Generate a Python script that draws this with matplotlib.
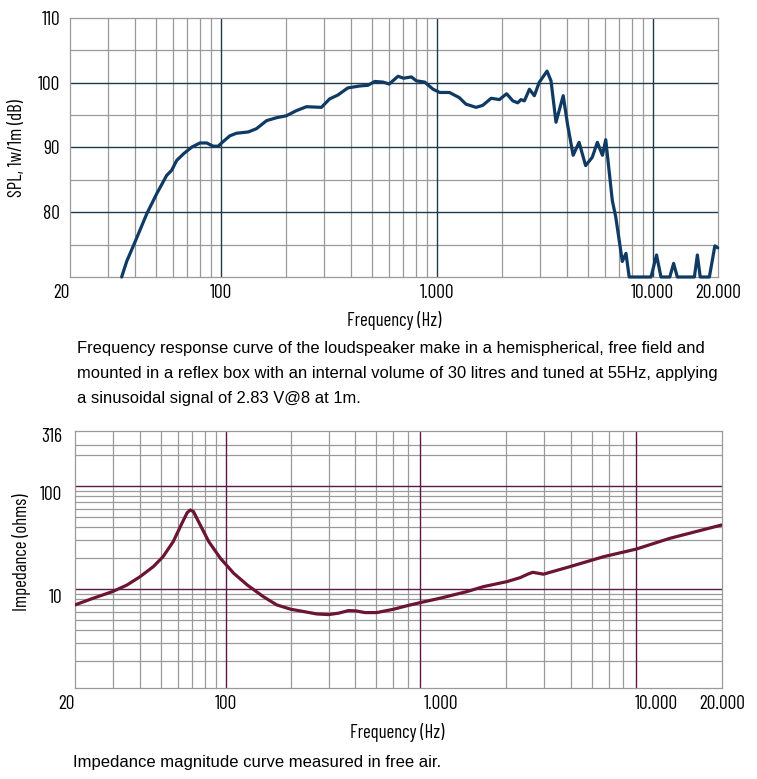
import matplotlib.pyplot as plt
from matplotlib.ticker import NullLocator

plt.rcParams['font.family'] = ['Barlow Condensed', 'Archivo Narrow', 'DejaVu Sans']

# SPL response
spl_freq = [34.7, 36.6, 40.0, 45.4, 50.5, 56.1, 59.2, 62.4, 67.0, 73.2, 80.0, 85.9,
            92.1, 97.2, 100.7, 110, 118, 133.8, 146, 162.8, 181, 201, 224, 249, 292,
            318.6, 348, 387, 439, 479, 516, 564, 602, 661, 702, 762, 804, 879, 961,
            1032, 1144, 1271, 1364, 1520, 1630, 1785, 1950, 2105, 2250, 2370, 2455,
            2545, 2685, 2830, 2980, 3240, 3380, 3565, 3850, 4030, 4280, 4560, 4890,
            5250, 5540, 5850, 6060, 6500, 6740, 7140, 7230, 7520, 7780, 9820, 10420,
            10920, 12000, 12500, 13000, 15600, 16100, 16600, 18300, 19400, 20000]
spl_db = [70.0, 72.4, 75.4, 79.8, 82.9, 85.7, 86.5, 88.0, 89.0, 90.05, 90.7, 90.7,
          90.2, 90.2, 90.7, 91.8, 92.2, 92.4, 92.9, 94.15, 94.6, 94.9, 95.7, 96.3, 96.2,
          97.5, 98.1, 99.2, 99.5, 99.6, 100.2, 100.1, 99.8, 101.0, 100.7, 100.9, 100.3,
          100.1, 99.0, 98.5, 98.5, 97.7, 96.7, 96.2, 96.5, 97.6, 97.4, 98.3, 97.2, 96.9,
          97.4, 97.2, 99.0, 98.0, 100.05, 101.8, 100.3, 93.9, 98.0, 93.6, 88.8, 90.8,
          87.2, 88.5, 90.8, 88.8, 91.2, 81.8, 79.3, 73.65, 72.4, 73.65, 70.0, 70.0, 73.4,
          70.0, 70.0, 72.1, 70.0, 70.0, 73.4, 70.0, 70.0, 74.8, 74.5]

# impedance magnitude
imp_freq = [20, 24.3, 29.8, 34.8, 40.0, 46.2, 51.2, 57.1, 62.7, 66.3, 68.5, 70.9, 76.2,
            83.5, 94.5, 108.9, 125.9, 149.5, 172.6, 200.4, 221.4, 264.6, 300.9, 333.4,
            370.9, 401.5, 443.4, 502, 600, 697, 801, 988, 1314, 1570, 2015, 2323, 2538,
            2660, 2979, 3963, 5657, 7998, 11535, 20000]
imp_ohm = [7.04, 8.18, 9.47, 10.97, 13.2, 16.6, 20.7, 29.0, 43.8, 55.5, 58.9, 56.8, 42.1,
           29.0, 20.0, 14.3, 11.0, 8.47, 7.04, 6.39, 6.16, 5.75, 5.67, 5.85, 6.20, 6.16,
           5.93, 5.93, 6.39, 6.93, 7.42, 8.18, 9.48, 10.6, 11.85, 12.96, 14.1, 14.6, 14.0,
           16.6, 20.7, 24.5, 31.3, 42.1]

freq_ticks = [20, 100, 1000, 10000, 20000]
freq_labels = ['20', '100', '1.000', '10.000', '20.000']

caption_top = ["Frequency response curve of the loudspeaker make in a hemispherical, free field and",
               "mounted in a reflex box with an internal volume of 30 litres and tuned at 55Hz, applying",
               "a sinusoidal signal of 2.83 V@8 at 1m."]
caption_bottom = "Impedance magnitude curve measured in free air."

GRAY = '#9a9a9a'
NAVY = '#0f3a63'
NAVY_GRID = '#1e3a4c'
WINE = '#6c1434'
WINE_GRID = '#5e1745'


def setup_freq_axis(ax):
    ax.set_xscale('log')
    ax.set_xlim(20, 20000)
    ax.xaxis.set_minor_locator(NullLocator())
    ax.set_xticks(freq_ticks)
    ax.set_xticklabels(freq_labels)
    ax.tick_params(length=0, labelsize=14, pad=5)
    ax.xaxis.get_ticklabels()[0].set_ha('right')
    for s in ax.spines.values():
        s.set_color(GRAY)
        s.set_linewidth(0.9)


fig = plt.figure(figsize=(7.57, 7.79), dpi=100)

# ---- upper chart: SPL
ax1 = fig.add_axes([70 / 757, 1 - 277 / 779, 647.7 / 757, 259 / 779])
setup_freq_axis(ax1)
ax1.set_ylim(70, 110)
ax1.set_yticks([80, 90, 100, 110])
ax1.tick_params(axis='y', pad=7)
for f in [30, 40, 50, 60, 70, 80, 90, 200, 300, 400, 500, 600, 700, 800, 900,
          2000, 3000, 4000, 5000, 6000, 7000, 8000, 9000]:
    ax1.axvline(f, color=GRAY, lw=0.9, zorder=1)
for v in [75, 85, 95, 105]:
    ax1.axhline(v, color=GRAY, lw=0.9, zorder=1)
for f in [100, 1000, 10000]:
    ax1.axvline(f, color=NAVY_GRID, lw=1.0, zorder=2)
for v in [80, 90, 100]:
    ax1.axhline(v, color=NAVY_GRID, lw=1.0, zorder=2)
ax1.plot(spl_freq, spl_db, color=NAVY, lw=2.3, zorder=3, clip_on=False,
         solid_joinstyle='round', solid_capstyle='round')
fig.text(17.5 / 757, 1 - 148 / 779, 'SPL, 1w/1m (dB)', rotation=90,
         ha='center', va='center', fontsize=13.5)
fig.text(393.8 / 757, 1 - 321 / 779, 'Frequency (Hz)', ha='center', va='center', fontsize=13.5)

for i, line in enumerate(caption_top):
    fig.text(77 / 757, 1 - (353 + 25 * i) / 779, line, ha='left', va='baseline',
             family='Liberation Sans', fontsize=11.9)

# ---- lower chart: impedance
ax2 = fig.add_axes([75 / 757, 1 - 688.3 / 779, 646.7 / 757, 257.6 / 779])
setup_freq_axis(ax2)
ax2.set_yscale('log')
ax2.set_ylim(1.09, 347)
ax2.yaxis.set_minor_locator(NullLocator())
ax2.set_yticks([10, 100, 316])
ax2.set_yticklabels(['10', '100', '316'])
ax2.tick_params(axis='y', pad=9)
for lab in ax2.get_yticklabels()[:2]:
    lab.set_va('top')
# the printed chart has its heavy lines at 800 and 8000, not at the labels
for f in [30, 40, 50, 60, 70, 80, 90, 200, 300, 400, 500, 600, 700,
          2000, 3000, 4000, 5000, 6000, 7000]:
    ax2.axvline(f, color=GRAY, lw=0.9, zorder=1)
for v in [2, 3, 4, 5, 6, 7, 8, 9, 20, 30, 40, 50, 60, 70, 80, 90, 200, 250]:
    ax2.axhline(v, color=GRAY, lw=0.9, zorder=1)
for f in [100, 800, 8000]:
    ax2.axvline(f, color=WINE_GRID, lw=1.0, zorder=2)
for v in [10, 100]:
    ax2.axhline(v, color=WINE_GRID, lw=1.0, zorder=2)
ax2.plot(imp_freq, imp_ohm, color=WINE, lw=2.3, zorder=3,
         solid_joinstyle='round', solid_capstyle='round')
fig.text(22 / 757, 1 - 552 / 779, 'Impedance (ohms)', rotation=90,
         ha='center', va='center', fontsize=13.5)
fig.text(397.5 / 757, 1 - 732.7 / 779, 'Frequency (Hz)', ha='center', va='center', fontsize=13.5)

fig.text(73 / 757, 1 - 767 / 779, caption_bottom, ha='left', va='baseline',
         family='Liberation Sans', fontsize=12)

fig.savefig('out.png', dpi=100, facecolor='white')
